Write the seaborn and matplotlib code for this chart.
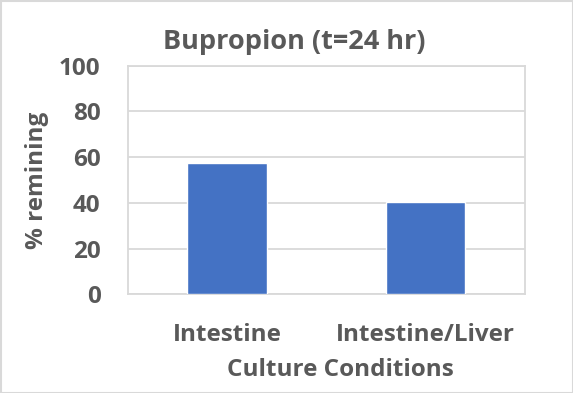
import matplotlib
matplotlib.use("Agg")
import matplotlib.pyplot as plt
import seaborn as sns
import pandas as pd
from matplotlib.patches import Rectangle

categories = ["Intestine", "Intestine/Liver"]
values = [57.3, 40.2]
yticks = [0, 20, 40, 60, 80, 100]

sns.set_theme(style="white")
plt.rcParams['font.family'] = ['Open Sans', 'DejaVu Sans']
txt = "#595959"
grid = "#D9D9D9"

W, H = 573, 393
fig = plt.figure(figsize=(W/100, H/100), dpi=100)
ax = fig.add_axes([127.7/W, 1-294.3/H, (525-127.7)/W, (294.3-65.7)/H])

df = pd.DataFrame({"cond": categories, "val": values})
sns.barplot(data=df, x="cond", y="val", color="#4472C4", width=0.4, ax=ax, zorder=3, saturation=1)

ax.set_ylim(0, 100)
ax.set_xlim(-0.5, 1.5)
ax.set_yticks(yticks)
ax.set_yticklabels([str(t) for t in yticks])
ax.yaxis.grid(True, color=grid, linewidth=1.3, zorder=0)
ax.set_axisbelow(True)
for s in ax.spines.values():
    s.set_color(grid)
    s.set_linewidth(1.3)
ax.tick_params(axis='both', length=0, labelsize=17.5, labelcolor=txt)
for lab in ax.get_xticklabels() + ax.get_yticklabels():
    lab.set_fontweight('bold')
ax.tick_params(axis='y', pad=19.5)
ax.tick_params(axis='x', pad=20.5)

ax.set_xlabel("Culture Conditions", fontsize=17.5, fontweight='bold', color=txt)
ax.xaxis.set_label_coords((340 - 127.7) / 397.3, -(370 - 294.3) / 228.6)
ax.xaxis.label.set_va('center')
ax.set_ylabel("% remining", fontsize=17.5, fontweight='bold', color=txt)
ax.yaxis.set_label_coords(-(127.7 - 37) / 397.3, 0.5)
ax.yaxis.label.set_va('center')
fig.text(294 / W, 1 - 42 / H, "Bupropion (t=24 hr)", fontsize=19.5, fontweight='bold',
         color=txt, ha='center', va='center')

fig.patches.append(Rectangle((0.5/W, 0.5/H), 1-1/W, 1-1/H, transform=fig.transFigure,
                             fill=False, edgecolor=grid, linewidth=1.5))
fig.savefig("out.png", dpi=100)
